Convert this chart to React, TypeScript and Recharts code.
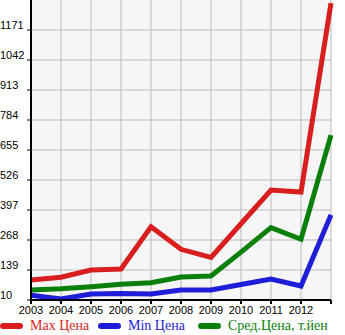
import { LineChart, Line, XAxis, YAxis, ReferenceArea, ReferenceLine } from 'recharts';

const years = [2003, 2004, 2005, 2006, 2007, 2008, 2009, 2010, 2011, 2012, 2013];
const maxPrice = [96, 108, 139, 143, 325, 228, 193, 338, 483, 474, 1287];
const minPrice = [30, 14, 36, 38, 36, 53, 53, 77, 100, 70, 376];
const avgPrice = [53, 58, 67, 78, 84, 109, 113, 216, 321, 271, 719];
const yTicks = [10, 139, 268, 397, 526, 655, 784, 913, 1042, 1171];

const seriesNames = ['Max Цена', 'Min Цена', 'Сред.Цена, т.йен'];
const seriesColors = ['#d81e1e', '#1e1ed8', '#0a800a'];
const legendLeft = [0, 98, 198];

const data = years.map((year, i) => ({
  year,
  max: maxPrice[i],
  min: minPrice[i],
  avg: avgPrice[i],
}));

const tickFont = '"Liberation Sans", Arial, sans-serif';

function YTick({ y, payload }: any) {
  return (
    <text x={0} y={y - 1} fontSize={11} fontFamily={tickFont} fill="#000" textAnchor="start">
      {payload.value}
    </text>
  );
}

export default function App() {
  return (
    <div style={{ position: 'relative', width: 345, height: 335 }}>
      <style>{'html, body { margin: 0; padding: 0; }'}</style>
      <LineChart
        width={345}
        height={335}
        data={data}
        margin={{ top: 0, right: 14, left: 0, bottom: 15 }}
      >
        <XAxis
          dataKey="year"
          type="number"
          domain={[2003, 2013]}
          ticks={years}
          interval={0}
          tickFormatter={(v: number) => (v === 2013 ? '' : String(v))}
          height={20}
          tickSize={4}
          tick={{ fontSize: 11, fontFamily: tickFont, fill: '#000' }}
          axisLine={{ stroke: '#000', strokeWidth: 2 }}
          tickLine={{ stroke: '#000', strokeWidth: 2 }}
        />
        <YAxis
          type="number"
          domain={[10, 1300]}
          ticks={yTicks}
          interval={0}
          width={31}
          tickSize={4}
          tick={<YTick />}
          axisLine={{ stroke: '#000', strokeWidth: 2 }}
          tickLine={{ stroke: '#000', strokeWidth: 1 }}
        />
        <ReferenceArea
          x1={years[0]}
          x2={years[years.length - 1]}
          y1={10}
          y2={1300}
          fill="#f6f6f6"
          fillOpacity={1}
          stroke="none"
        />
        {yTicks.slice(1).map((v) => (
          <ReferenceLine key={`h${v}`} y={v} stroke="#bbbbbb" strokeWidth={1} />
        ))}
        {years.slice(1).map((v) => (
          <ReferenceLine key={`v${v}`} x={v} stroke="#bbbbbb" strokeWidth={1} />
        ))}
        <Line dataKey="avg" stroke={seriesColors[2]} strokeWidth={5} dot={false} isAnimationActive={false} />
        <Line dataKey="min" stroke={seriesColors[1]} strokeWidth={5} dot={false} isAnimationActive={false} />
        <Line dataKey="max" stroke={seriesColors[0]} strokeWidth={5} dot={false} isAnimationActive={false} />
      </LineChart>
      {seriesNames.map((name, i) => (
        <div
          key={name}
          style={{
            position: 'absolute',
            left: legendLeft[i],
            top: 318,
            display: 'flex',
            alignItems: 'center',
            fontFamily: '"Liberation Serif", "Times New Roman", serif',
            fontSize: 14,
            whiteSpace: 'nowrap',
          }}
        >
          <span
            style={{
              display: 'inline-block',
              width: 23,
              height: 6,
              borderRadius: 3,
              background: seriesColors[i],
              marginRight: 7,
            }}
          />
          <span style={{ color: seriesColors[i] }}>{name}</span>
        </div>
      ))}
    </div>
  );
}
